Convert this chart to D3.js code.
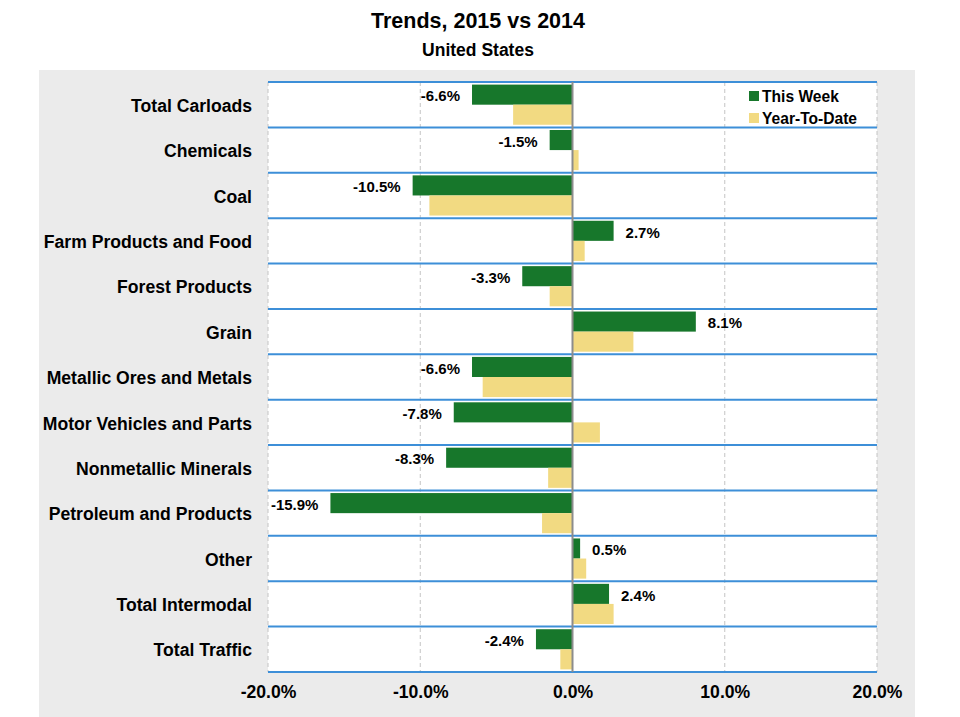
<!DOCTYPE html>
<html><head><meta charset="utf-8">
<script src="https://cdn.jsdelivr.net/npm/d3@7"></script>
<style>body{margin:0;background:#fff;}text{font-family:"Liberation Sans",Arial,sans-serif;font-weight:bold;fill:#000;}</style>
</head><body><svg id="c" width="960" height="717"></svg>
<script>
const categories = ["Total Carloads","Chemicals","Coal","Farm Products and Food","Forest Products","Grain","Metallic Ores and Metals","Motor Vehicles and Parts","Nonmetallic Minerals","Petroleum and Products","Other","Total Intermodal","Total Traffic"];
const thisWeek = [-6.6,-1.5,-10.5,2.7,-3.3,8.1,-6.6,-7.8,-8.3,-15.9,0.5,2.4,-2.4];
const yearToDate = [-3.9,0.4,-9.4,0.8,-1.5,4.0,-5.9,1.8,-1.6,-2.0,0.9,2.7,-0.8];
const tickValues = [-20,-10,0,10,20];
const seriesNames = ["This Week","Year-To-Date"];
const colors = ["#17772b","#f2da82"];

const svg = d3.select("#c");
svg.append("rect").attr("x",39).attr("y",70).attr("width",876).attr("height",647).attr("fill","#ebebeb");
const L=268,R=877,T=82,B=672;
svg.append("rect").attr("x",L).attr("y",T).attr("width",R-L).attr("height",B-T).attr("fill","#fff");

const x = d3.scaleLinear().domain([-20,20]).range([L,R]);
const y = d3.scaleBand().domain(categories).range([T,B]);
const inner = d3.scaleBand().domain(seriesNames).range([0,y.bandwidth()]).paddingOuter(0.13).paddingInner(0);

// grid
tickValues.forEach(t=>{
  if(t===0) return;
  svg.append("line").attr("x1",x(t)).attr("x2",x(t)).attr("y1",T).attr("y2",B)
    .attr("stroke","#c4c4c4").attr("stroke-width",1).attr("stroke-dasharray","4,3");
});
// row separators
const seps = categories.map(c=>y(c)).concat([B]);
svg.selectAll(".sep").data(seps).enter().append("line")
  .attr("x1",L).attr("x2",R).attr("y1",d=>d).attr("y2",d=>d)
  .attr("stroke","#3d8fd8").attr("stroke-width",2);

const series=[thisWeek,yearToDate];
series.forEach((vals,si)=>{
  svg.selectAll(".b"+si).data(categories).enter().append("rect")
    .attr("x",(c,i)=>x(Math.min(0,vals[i])))
    .attr("width",(c,i)=>Math.abs(x(vals[i])-x(0)))
    .attr("y",c=>y(c)+inner(seriesNames[si]))
    .attr("height",inner.bandwidth())
    .attr("fill",colors[si]);
});
// zero line
svg.append("line").attr("x1",x(0)).attr("x2",x(0)).attr("y1",T).attr("y2",B).attr("stroke","#8c8c8c").attr("stroke-width",2);

// labels
svg.selectAll(".lab").data(categories).enter().append("text")
  .attr("x",(c,i)=>thisWeek[i]<0?x(thisWeek[i])-12:x(thisWeek[i])+12)
  .attr("y",c=>y(c)+inner(seriesNames[0])+inner.bandwidth()/2+1.5)
  .attr("dy","0.35em")
  .attr("text-anchor",(c,i)=>thisWeek[i]<0?"end":"start")
  .style("font-size","15px")
  .text((c,i)=>thisWeek[i].toFixed(1)+"%");

// category axis
const yAxis = d3.axisLeft(y).tickSize(0).tickPadding(16);
const gy = svg.append("g").attr("transform",`translate(${L},1.5)`).call(yAxis);
gy.select(".domain").remove();
gy.selectAll("text").style("font-size","17.6px").style("font-family","'Liberation Sans',Arial,sans-serif").style("font-weight","bold").attr("fill","#000");

// x axis
const xAxis = d3.axisBottom(x).tickValues(tickValues).tickSize(0).tickPadding(14).tickFormat(d=>d.toFixed(1)+"%");
const gx = svg.append("g").attr("transform",`translate(0,${B})`).call(xAxis);
gx.select(".domain").remove();
gx.selectAll("text").style("font-size","17.6px").style("font-family","'Liberation Sans',Arial,sans-serif").style("font-weight","bold").attr("fill","#000");

// title
svg.append("text").attr("x",478).attr("y",28).attr("text-anchor","middle").style("font-size","21.5px").text("Trends, 2015 vs 2014");
svg.append("text").attr("x",478).attr("y",56).attr("text-anchor","middle").style("font-size","17.5px").text("United States");

// legend
seriesNames.forEach((s,i)=>{
  const ly=96+i*22;
  svg.append("rect").attr("x",749).attr("y",ly-5).attr("width",10).attr("height",10).attr("fill",colors[i]);
  svg.append("text").attr("x",762).attr("y",ly+1).attr("dy","0.35em").style("font-size","15.6px").text(s);
});
</script></body></html>
